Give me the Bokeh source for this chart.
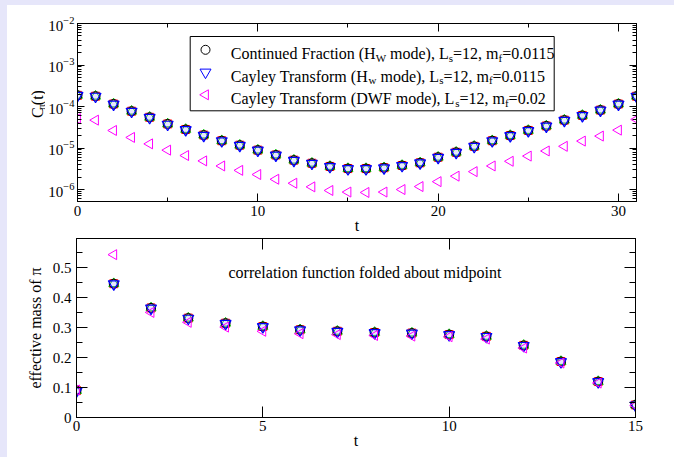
import math
from bokeh.plotting import figure
from bokeh.models import (Range1d, LogAxis, LinearAxis, LogTicker, SingleIntervalTicker,
                          Label, BoxAnnotation, CustomJSTickFormatter, Spacer)
from bokeh.layouts import column, row
from bokeh.embed import file_html
from bokeh.resources import INLINE

# ---------------- data ----------------
t_corr = list(range(32))
corr_cont_frac = [1.86e-4, 1.77e-4, 1.15e-4, 7.7e-5, 5.5e-5, 3.8e-5, 2.8e-5, 2.05e-5,
                  1.5e-5, 1.17e-5, 8.9e-6, 6.8e-6, 5.1e-6, 4.3e-6, 3.6e-6, 3.2e-6,
                  3.2e-6, 3.35e-6, 3.8e-6, 4.4e-6, 6.0e-6, 7.9e-6, 1.1e-5, 1.5e-5,
                  2.0e-5, 2.65e-5, 3.4e-5, 4.7e-5, 6.1e-5, 8.2e-5, 1.15e-4, 1.77e-4]
corr_cayley_hw = [1.84e-4, 1.75e-4, 1.13e-4, 7.6e-5, 5.4e-5, 3.7e-5, 2.75e-5, 2.0e-5,
                  1.48e-5, 1.15e-5, 8.8e-6, 6.7e-6, 5.0e-6, 4.25e-6, 3.55e-6, 3.15e-6,
                  3.15e-6, 3.3e-6, 3.75e-6, 4.35e-6, 5.9e-6, 7.8e-6, 1.08e-5, 1.48e-5,
                  1.97e-5, 2.6e-5, 3.35e-5, 4.6e-5, 6.0e-5, 8.1e-5, 1.13e-4, 1.75e-4]
corr_cayley_dwf = [5.1e-5, 4.7e-5, 2.65e-5, 1.8e-5, 1.26e-5, 8.9e-6, 6.6e-6, 4.9e-6,
                   3.7e-6, 2.9e-6, 2.3e-6, 1.77e-6, 1.42e-6, 1.16e-6, 9.5e-7, 8.7e-7,
                   8.5e-7, 8.7e-7, 1.0e-6, 1.18e-6, 1.55e-6, 2.1e-6, 2.7e-6, 3.7e-6,
                   4.8e-6, 6.4e-6, 8.5e-6, 1.1e-5, 1.47e-5, 1.94e-5, 2.7e-5, 4.9e-5]

t_mass = list(range(16))
mass_cont_frac = [0.090, 0.447, 0.366, 0.332, 0.315, 0.304, 0.293, 0.288,
                  0.284, 0.282, 0.277, 0.271, 0.241, 0.187, 0.120, 0.042]
mass_cayley_hw = [0.088, 0.446, 0.365, 0.331, 0.314, 0.303, 0.292, 0.287,
                  0.283, 0.281, 0.276, 0.270, 0.240, 0.186, 0.119, 0.041]
mass_cayley_dwf = [0.092, 0.544, 0.351, 0.318, 0.302, 0.288, 0.280, 0.277,
                   0.274, 0.272, 0.270, 0.262, 0.232, 0.182, 0.115, 0.040]

# legend entries: list of (text, is_subscript)
legend_entries = [
    [("Continued Fraction (H", False), ("W", True), (" mode), L", False), ("s", True),
     ("=12, m", False), ("f", True), ("=0.0115", False)],
    [("Cayley Transform (H", False), ("w", True), (" mode), L", False), ("s", True),
     ("=12, m", False), ("f", True), ("=0.0115", False)],
    [("Cayley Transform (DWF mode), L", False), ("s", True), ("=12, m", False),
     ("f", True), ("=0.02", False)],
]
y_label_parts = [("C", False), ("\u03c0", True), ("(t)", False)]
annotation_text = "correlation function folded about midpoint"

# ---------------- style ----------------
FONT = "Liberation Serif"
LAV = "#e6e6fa"
TXT = 16
SUB = 11
TICK = "15px"
FW = 559
TOP_FH = 178
BOT_FH = 179
Y_TOP_MIN = 10 ** -6.288
Y_TOP_MAX = 1e-2
LAB_W = 38
TOP_H = 229

# Times / Liberation Serif advance widths (per 1000 em)
TW = {' ': 250, '(': 333, ')': 333, ',': 250, '.': 250, '=': 564,
      'C': 667, 'D': 722, 'F': 556, 'H': 722, 'L': 611, 'T': 611, 'W': 944,
      'a': 444, 'c': 444, 'd': 500, 'e': 444, 'f': 333, 'i': 278, 'l': 278,
      'm': 778, 'n': 500, 'o': 500, 'r': 333, 's': 389, 't': 278, 'u': 500,
      'w': 722, 'y': 500, '\u03c0': 550}


def text_w(s, size):
    return sum(TW.get(c, 500) for c in s) * size / 1000.0


def style_axis(ax, major_in, minor_in):
    ax.major_tick_in = major_in
    ax.major_tick_out = 0
    ax.minor_tick_in = minor_in
    ax.minor_tick_out = 0
    ax.axis_line_color = "black"
    ax.major_tick_line_color = "black"
    ax.minor_tick_line_color = "black" if minor_in else None
    ax.major_label_text_font = FONT
    ax.major_label_text_font_size = TICK
    ax.major_label_text_color = "black"
    ax.axis_label_text_font = FONT
    ax.axis_label_text_font_style = "normal"
    ax.axis_label_text_font_size = f"{TXT}px"
    ax.axis_label_text_color = "black"


def mirror(ax):
    ax.formatter = CustomJSTickFormatter(code="return ''")
    ax.major_label_text_font_size = "0px"
    ax.major_label_standoff = 0
    return ax


def add_series(p, xs, ys_cf, ys_hw, ys_dwf):
    p.scatter(xs, ys_cf, marker="square", size=8, fill_color=None, line_color="red")
    p.scatter(xs, ys_cf, marker="triangle", size=10, fill_color=None, line_color="#00c000")
    p.scatter(xs, ys_cf, marker="circle", size=9, fill_color=None, line_color="black")
    p.scatter(xs, ys_hw, marker="inverted_triangle", size=11, fill_color="#a0a0ff",
              fill_alpha=0.25, line_color="blue", line_width=1.2)
    p.scatter(xs, ys_dwf, marker="triangle", angle=math.pi / 2, size=10,
              fill_color=None, line_color="magenta")


# ---------------- top figure ----------------
p1 = figure(frame_width=FW, frame_height=TOP_FH, y_axis_type="log",
            x_range=Range1d(0, 31), y_range=Range1d(Y_TOP_MIN, Y_TOP_MAX),
            output_backend="svg", toolbar_location=None,
            min_border_left=76 - 7 - LAB_W, min_border_right=39,
            min_border_top=18, min_border_bottom=30,
            background_fill_color="white", border_fill_color="white")
p1.grid.visible = False
p1.outline_line_color = "black"
p1.outline_line_alpha = 1.0

xt1 = SingleIntervalTicker(interval=10, num_minor_ticks=2)
yt1 = LogTicker(num_minor_ticks=10, desired_num_ticks=5)
bx = p1.below[0]
bx.ticker = xt1
bx.axis_label = "t"
bx.axis_label_standoff = -2
bx.major_label_standoff = 4
style_axis(bx, 8, 4)
ly = p1.left[0]
ly.ticker = yt1
ly.major_label_standoff = 3
style_axis(ly, 7, 4)

ax_top = LinearAxis(ticker=xt1)
style_axis(ax_top, 8, 4)
mirror(ax_top)
p1.add_layout(ax_top, "above")
ax_right = LogAxis(ticker=yt1)
style_axis(ax_right, 7, 4)
mirror(ax_right)
p1.add_layout(ax_right, "right")

add_series(p1, t_corr, corr_cont_frac, corr_cayley_hw, corr_cayley_dwf)

# helpers: frame-relative reference pixels -> data
LMIN, LMAX = math.log10(Y_TOP_MIN), math.log10(Y_TOP_MAX)


def x1(dx):
    return dx * 31.0 / FW


def y1(dy):
    return 10 ** (LMAX - dy / TOP_FH * (LMAX - LMIN))


# legend box + entries
p1.add_layout(BoxAnnotation(left=x1(112.7), right=x1(476.7), top=y1(13.0), bottom=y1(87.3),
                            fill_color="white", fill_alpha=1.0, line_color="black",
                            line_width=1, line_alpha=1.0, level="underlay"))
row_base = [30.3, 52.8, 75.3]
markers = [("circle", 0, "black", 9), ("inverted_triangle", 0, "blue", 11),
           ("triangle", math.pi / 2, "magenta", 10)]
for base, entry, (mk, ang, col, sz) in zip(row_base, legend_entries, markers):
    p1.scatter([x1(128.0)], [y1(base - 4)], marker=mk, angle=ang, size=sz,
               fill_color=None, line_color=col)
    off = 0.0
    for txt, sub in entry:
        size = SUB if sub else TXT
        stripped = txt.lstrip(" ")
        off += text_w(txt[:len(txt) - len(stripped)], size)
        p1.add_layout(Label(x=x1(153.3), y=y1(base + (4 if sub else 0)), x_offset=off,
                            text=stripped, text_font=FONT, text_font_size=f"{size}px",
                            text_color="black", text_baseline="alphabetic",
                            text_align="left"))
        off += text_w(stripped, size)

# ---------------- y-label strip for the top panel ----------------
lab = figure(width=LAB_W, height=TOP_H, x_range=Range1d(0, LAB_W), y_range=Range1d(0, TOP_H),
             x_axis_location=None, y_axis_location=None, output_backend="svg",
             toolbar_location=None, min_border=0, outline_line_color=None,
             background_fill_color="white", border_fill_color="white")
lab.grid.visible = False
pos = TOP_H - (128 - 5)
for txt, sub in y_label_parts:
    size = SUB if sub else TXT
    lab.add_layout(Label(x=36.5 - 7 + (3.5 if sub else 0), y=pos, text=txt,
                         angle=math.pi / 2, text_font=FONT, text_font_size=f"{size}px",
                         text_color="black", text_baseline="alphabetic", text_align="left"))
    pos += text_w(txt, size)

# ---------------- bottom figure ----------------
p2 = figure(frame_width=FW, frame_height=BOT_FH,
            x_range=Range1d(0, 15), y_range=Range1d(0, 0.598),
            output_backend="svg", toolbar_location=None,
            min_border_left=76 - 7, min_border_right=39, min_border_top=2, min_border_bottom=30,
            background_fill_color="white", border_fill_color="white")
p2.grid.visible = False
p2.outline_line_color = "black"
p2.outline_line_alpha = 1.0

xt2 = SingleIntervalTicker(interval=5, num_minor_ticks=1)
yt2 = SingleIntervalTicker(interval=0.1, num_minor_ticks=2)
bx2 = p2.below[0]
bx2.ticker = xt2
bx2.axis_label = "t"
bx2.axis_label_standoff = -2
bx2.major_label_standoff = 3
style_axis(bx2, 11, 0)
ly2 = p2.left[0]
ly2.ticker = yt2
ly2.axis_label = "effective mass of \u03c0"
ly2.axis_label_standoff = 6
ly2.major_label_standoff = 5
style_axis(ly2, 11, 6)

ax_top2 = LinearAxis(ticker=xt2)
style_axis(ax_top2, 11, 0)
mirror(ax_top2)
p2.add_layout(ax_top2, "above")
ax_right2 = LinearAxis(ticker=yt2)
style_axis(ax_right2, 11, 6)
mirror(ax_right2)
p2.add_layout(ax_right2, "right")

add_series(p2, t_mass, mass_cont_frac, mass_cayley_hw, mass_cayley_dwf)

p2.add_layout(Label(x=(228 - 76) * 15.0 / FW, y=(416 - 271) / 299.0, text=annotation_text,
                    text_font=FONT, text_font_size=f"{TXT}px", text_color="black",
                    text_baseline="middle", text_align="left"))

# ---------------- page layout with lavender frame ----------------
left_strip = Spacer(width=7, height=457, styles={"background-color": LAV})
top_strip = Spacer(width=667, height=5, styles={"background-color": LAV})
layout = row(left_strip,
             column(top_strip, row(lab, p1, spacing=0), p2, spacing=0),
             spacing=0)
open("out.html", "w").write(file_html(layout, INLINE))
